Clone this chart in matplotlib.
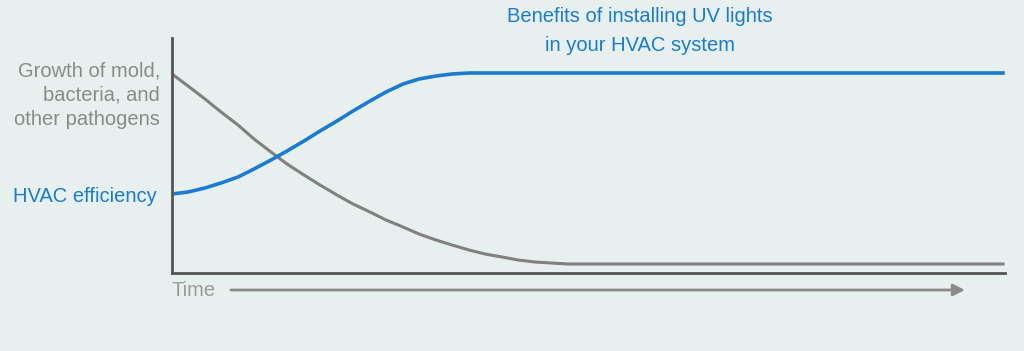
import matplotlib
matplotlib.use('Agg')
import matplotlib.pyplot as plt

BG = '#e7f0ef'
BLUE = '#1a7bd0'
GRAY = '#808080'
AXIS = '#555555'
LABEL_GRAY = '#8a8a8a'

# Curves (time units, level units)
eff_time = [0, 16, 33, 49, 66, 82, 99, 115, 132, 148, 165, 181, 198, 214, 231, 247, 264,
            280, 297, 313, 330, 831]
eff_level = [79, 81, 85, 90, 96, 104, 113, 122, 132, 142, 152, 162, 172, 181, 189, 194, 197,
             199, 200, 200, 200, 200]

mold_time = [0, 16, 33, 49, 66, 82, 99, 115, 132, 148, 165, 181, 198, 214, 231, 247, 264,
             280, 297, 313, 330, 346, 363, 379, 396, 831]
mold_level = [199, 187, 174, 161, 148, 134, 121, 109, 98, 88, 78, 69, 61, 53, 46, 39, 33,
              28, 23, 19, 16, 13, 11, 10, 9, 9]

plt.rcParams['font.family'] = ['Liberation Sans', 'DejaVu Sans']

fig = plt.figure(figsize=(10.24, 3.51), dpi=100, facecolor=BG)
ax = fig.add_axes([172 / 1024, 78 / 351, 833 / 1024, 235 / 351])
ax.set_facecolor(BG)

ax.plot(mold_time, mold_level, color=GRAY, lw=2.2, solid_joinstyle='round')
ax.plot(eff_time, eff_level, color=BLUE, lw=2.6, solid_joinstyle='round')

ax.set_xlim(0, 833)
ax.set_ylim(0, 235)
for s in ['top', 'right']:
    ax.spines[s].set_visible(False)
for s in ['left', 'bottom']:
    ax.spines[s].set_color(AXIS)
    ax.spines[s].set_linewidth(2)
ax.set_xticks([])
ax.set_yticks([])

ax.text(468, 242, 'Benefits of installing UV lights\nin your HVAC system', color=BLUE,
        fontsize=14.5, ha='center', va='center', linespacing=1.7, clip_on=False)
ax.text(-12, 178, 'Growth of mold,\nbacteria, and\nother pathogens', color=LABEL_GRAY,
        fontsize=14.5, ha='right', va='center', linespacing=1.35, clip_on=False)
ax.text(-15, 77, 'HVAC efficiency', color=BLUE, fontsize=14.5, ha='right', va='center',
        clip_on=False)
ax.text(0, -18, 'Time', color='#9a9a9a', fontsize=14.5, ha='left', va='center', clip_on=False)
ax.annotate('', xy=(793, -17), xytext=(59, -17), xycoords='data', annotation_clip=False,
            arrowprops=dict(arrowstyle='-|>,head_length=0.7,head_width=0.35', color='#8a8a8a',
                            lw=2, shrinkA=0, shrinkB=0))

fig.savefig('out.png', dpi=100, facecolor=BG)
